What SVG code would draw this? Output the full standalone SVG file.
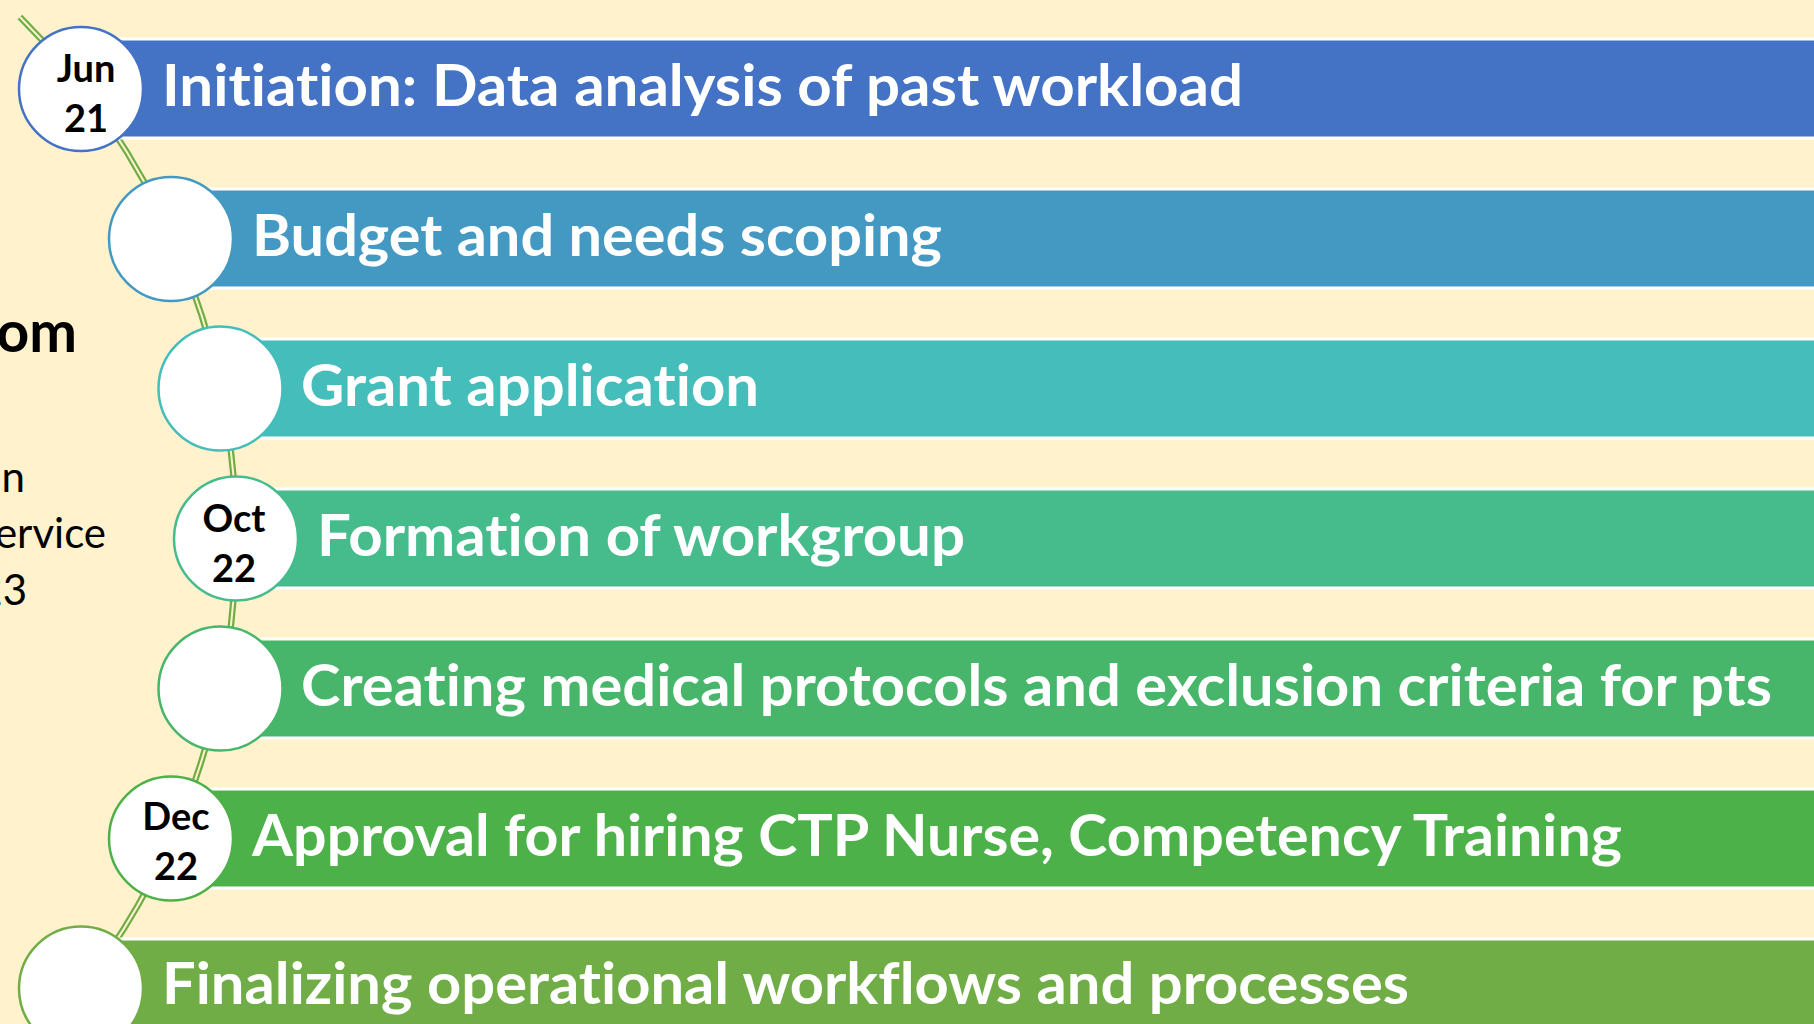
<svg xmlns="http://www.w3.org/2000/svg" width="1814" height="1024" viewBox="0 0 1814 1024">
<style>
text{font-variant-ligatures:none;font-feature-settings:"liga" 0,"clig" 0}
.bar{stroke:#ffffff;stroke-width:3}
.dot{fill:#ffffff;stroke-width:2.5}
.lbl{font-family:Lato,"Open Sans","Liberation Sans",sans-serif;font-weight:700;font-size:58px;fill:#ffffff}
.date{font-family:Lato,"Open Sans","Liberation Sans",sans-serif;font-weight:700;font-size:38px;fill:#000000;text-anchor:middle}
.side{font-family:Lato,"Open Sans","Liberation Sans",sans-serif;fill:#000000;text-anchor:end}
</style>
<rect x="0" y="0" width="1814" height="1024" fill="#FFF2CC"/>
<g id="side-text">
<text class="side" x="77" y="352" font-size="57" font-weight="700">om</text>
<text class="side" x="25" y="492" font-size="42">n</text>
<text class="side" x="106" y="548" font-size="42">ervice</text>
<text class="side" x="27" y="605" font-size="42">23</text>
</g>
<g id="connectors">
<path d="M 19.9 17 A 736 736 0 0 1 19.9 1059" fill="none" stroke="#70AD47" stroke-width="6.5"/>
<path d="M 19.9 17 A 736 736 0 0 1 19.9 1059" fill="none" stroke="#FFF2CC" stroke-width="2"/>
</g>
<g id="n1">
<rect class="bar" x="81" y="39" width="1740" height="99" fill="#4472C4"/>
<circle class="dot" cx="81" cy="89" r="62" stroke="#4472C4"/>
<text class="date" x="86" y="82">Jun</text>
<text class="date" x="86" y="132">21</text>
<text class="lbl" x="162" y="106" textLength="1081" lengthAdjust="spacingAndGlyphs">Initiation: Data analysis of past workload</text>
</g>
<g id="n2">
<rect class="bar" x="171" y="189" width="1650" height="99" fill="#4499C3"/>
<circle class="dot" cx="171" cy="239" r="62" stroke="#4499C3"/>
<text class="lbl" x="252" y="256" textLength="690" lengthAdjust="spacingAndGlyphs">Budget and needs scoping</text>
</g>
<g id="n3">
<rect class="bar" x="220" y="339" width="1600" height="99" fill="#45BDBA"/>
<circle class="dot" cx="220.5" cy="388.5" r="62" stroke="#45BDBA"/>
<text class="lbl" x="301" y="406" textLength="458" lengthAdjust="spacingAndGlyphs">Grant application</text>
</g>
<g id="n4">
<rect class="bar" x="236" y="489" width="1590" height="99" fill="#46BB8C"/>
<circle class="dot" cx="236" cy="538.5" r="62" stroke="#46BB8C"/>
<text class="date" x="234" y="532">Oct</text>
<text class="date" x="234" y="582">22</text>
<text class="lbl" x="317" y="556" textLength="648" lengthAdjust="spacingAndGlyphs">Formation of workgroup</text>
</g>
<g id="n5">
<rect class="bar" x="220" y="639" width="1600" height="99" fill="#48B66A"/>
<circle class="dot" cx="220.5" cy="688.5" r="62" stroke="#48B66A"/>
<text class="lbl" x="301" y="706" textLength="1471" lengthAdjust="spacingAndGlyphs">Creating medical protocols and exclusion criteria for pts</text>
</g>
<g id="n6">
<rect class="bar" x="171" y="789" width="1650" height="99" fill="#4DB14A"/>
<circle class="dot" cx="171" cy="838.5" r="62" stroke="#4DB14A"/>
<text class="date" x="176" y="830">Dec</text>
<text class="date" x="176" y="880">22</text>
<text class="lbl" x="252" y="856" textLength="1370" lengthAdjust="spacingAndGlyphs">Approval for hiring CTP Nurse, Competency Training</text>
</g>
<g id="n7">
<rect class="bar" x="81" y="939" width="1740" height="99" fill="#70AD47"/>
<circle class="dot" cx="81" cy="988.5" r="62" stroke="#70AD47"/>
<text class="lbl" x="162" y="1004" textLength="1247" lengthAdjust="spacingAndGlyphs">Finalizing operational workflows and processes</text>
</g>
</svg>
